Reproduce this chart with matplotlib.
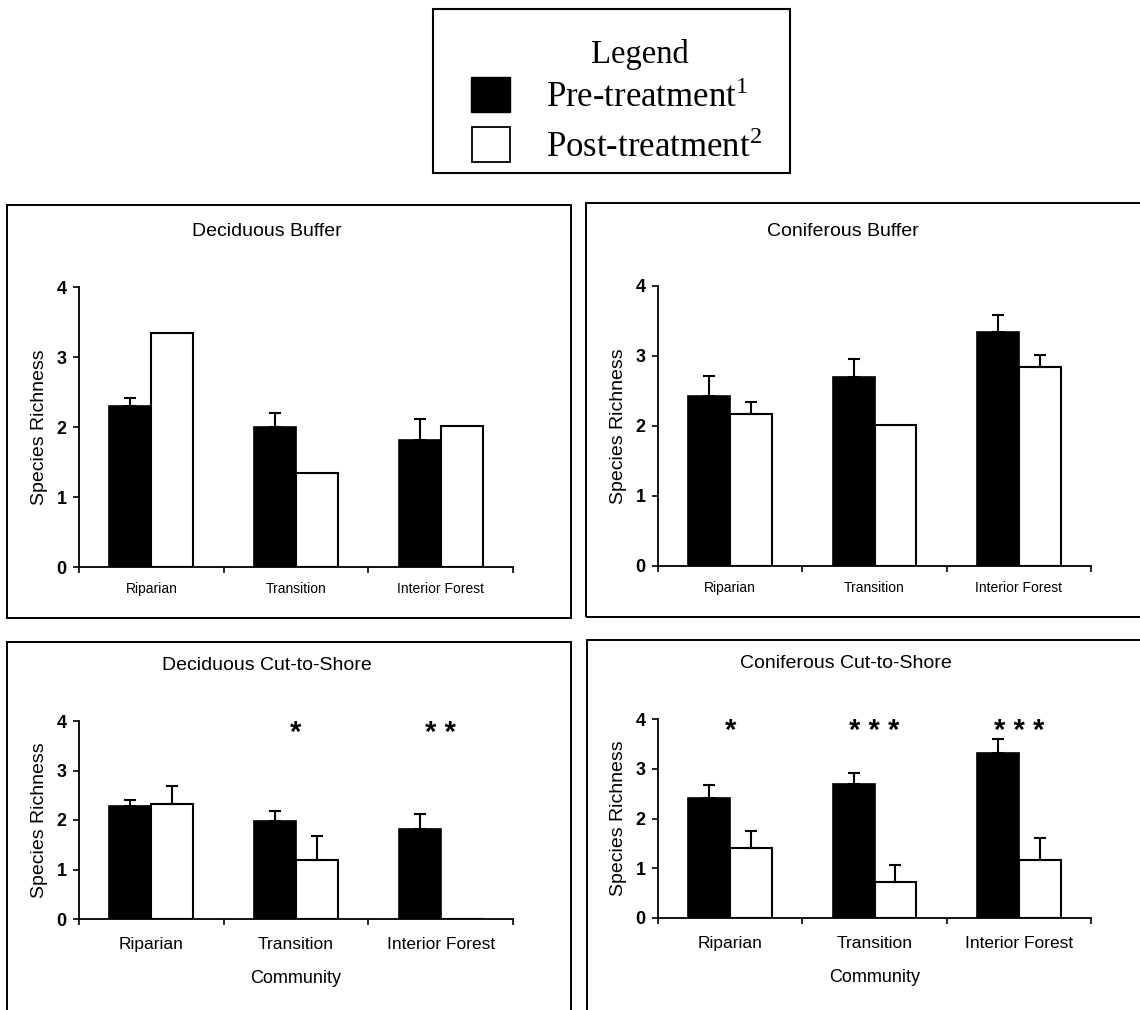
import numpy as np
import matplotlib
matplotlib.use("Agg")
import matplotlib.pyplot as plt
from matplotlib.patches import Rectangle

plt.rcParams["font.family"] = ["Liberation Sans", "DejaVu Sans"]
plt.rcParams["mathtext.fontset"] = "stix"

# data
categories = ["Riparian", "Transition", "Interior Forest"]
titles = ["Deciduous Buffer", "Coniferous Buffer",
          "Deciduous Cut-to-Shore", "Coniferous Cut-to-Shore"]

dec_buf_pre = [2.30, 2.00, 1.82]
dec_buf_pre_err = [0.12, 0.20, 0.30]
dec_buf_post = [3.34, 1.35, 2.02]
dec_buf_post_err = [0, 0, 0]

con_buf_pre = [2.43, 2.70, 3.34]
con_buf_pre_err = [0.29, 0.25, 0.25]
con_buf_post = [2.17, 2.01, 2.84]
con_buf_post_err = [0.17, 0, 0.17]

dec_cut_pre = [2.29, 1.97, 1.81]
dec_cut_pre_err = [0.11, 0.21, 0.31]
dec_cut_post = [2.32, 1.19, 0]
dec_cut_post_err = [0.36, 0.48, 0]

con_cut_pre = [2.42, 2.69, 3.32]
con_cut_pre_err = [0.26, 0.22, 0.28]
con_cut_post = [1.41, 0.72, 1.17]
con_cut_post_err = [0.33, 0.35, 0.44]

dec_cut_stars = ["", "*", "**"]
con_cut_stars = ["*", "***", "***"]

W, H = 1140, 1010
fig = plt.figure(figsize=(W / 100, H / 100), dpi=100)


def fx(px):
    return px / W


def fy(py):
    return 1 - py / H


def box(x0, y0, x1, y1, lw=1.4):
    fig.patches.append(Rectangle((fx(x0), fy(y1)), fx(x1) - fx(x0), fy(y0) - fy(y1),
                                 transform=fig.transFigure, fill=False,
                                 edgecolor="black", linewidth=lw))


# panel frames
box(7, 205, 571, 618)
box(586, 203, 1150, 617)
box(7, 642, 571, 1020)
box(587, 640, 1150, 1020)

# legend block
box(433, 9, 790, 173, lw=1.5)
fig.text(fx(640), fy(55), "Legend", family=["Liberation Serif"], fontsize=23.5,
         ha="center", va="center")
fig.patches.append(Rectangle((fx(471), fy(112)), fx(39), 35 / H,
                             transform=fig.transFigure, facecolor="black",
                             edgecolor="black"))
fig.patches.append(Rectangle((fx(472), fy(162)), fx(38), 35 / H,
                             transform=fig.transFigure, facecolor="white",
                             edgecolor="black", linewidth=1.3))
fig.text(fx(546), fy(98), r"Pre-treatment$^{\mathregular{1}}$", family=["Liberation Serif"],
         fontsize=25, ha="left", va="center")
fig.text(fx(546), fy(148), r"Post-treatment$^{\mathregular{2}}$", family=["Liberation Serif"],
         fontsize=25, ha="left", va="center")

panels = [
    (79, 513, 567, 287, dec_buf_pre, dec_buf_pre_err, dec_buf_post, dec_buf_post_err, None, (267, 231)),
    (658, 1091, 566, 286, con_buf_pre, con_buf_pre_err, con_buf_post, con_buf_post_err, None, (843, 231)),
    (79, 513, 919, 721, dec_cut_pre, dec_cut_pre_err, dec_cut_post, dec_cut_post_err, dec_cut_stars, (267, 665)),
    (658, 1091, 918, 719, con_cut_pre, con_cut_pre_err, con_cut_post, con_cut_post_err, con_cut_stars, (846, 664)),
]

x = np.arange(len(categories)) + 0.5
bw = 0.29

for i, (l, r, b, t, pre, pre_e, post, post_e, stars, tpos) in enumerate(panels):
    ax = fig.add_axes([fx(l), fy(b), fx(r) - fx(l), fy(t) - fy(b)])
    ax.bar(x - bw / 2, pre, bw, color="black", edgecolor="black", linewidth=1.2)
    ax.bar(x + bw / 2, post, bw, color="white", edgecolor="black", linewidth=1.5)
    for xs, vals, errs in [(x - bw / 2, pre, pre_e), (x + bw / 2, post, post_e)]:
        keep = [k for k in range(len(vals)) if errs[k] > 0]
        if keep:
            ax.errorbar([xs[k] for k in keep], [vals[k] for k in keep],
                        yerr=[[0] * len(keep), [errs[k] for k in keep]],
                        fmt="none", ecolor="black", elinewidth=1.5,
                        capsize=4.5, capthick=1.5)
    ax.set_xlim(0, 3)
    ax.set_ylim(0, 4)
    ax.set_yticks([0, 1, 2, 3, 4])
    ax.set_yticklabels(["0", "1", "2", "3", "4"], fontsize=13, fontweight="bold")
    ax.set_xticks([0, 1, 2, 3])
    ax.set_xticklabels([])
    ax.set_xticks(x, minor=True)
    for s in ["top", "right"]:
        ax.spines[s].set_visible(False)
    for s in ["left", "bottom"]:
        ax.spines[s].set_linewidth(1.3)
    ax.tick_params(axis="both", which="major", direction="out", length=4, width=1.2)
    ax.tick_params(axis="y", pad=5)
    if i < 2:
        ax.set_xticklabels(categories, minor=True, fontsize=10,
                           family=["Liberation Sans Narrow", "Liberation Sans"])
        ax.tick_params(axis="x", which="minor", length=0, pad=11)
    else:
        ax.set_xticklabels(categories, minor=True, fontsize=12.5)
        ax.tick_params(axis="x", which="minor", length=0, pad=13)
        ax.set_xlabel("Community", fontsize=13, labelpad=13)
    ax.set_ylabel("Species Richness", fontsize=14, labelpad=6)
    ax.patch.set_alpha(0)
    if stars:
        for xc, s in zip(x, stars):
            if s:
                ax.text(xc, 3.75, " ".join(s), fontsize=21, fontweight="bold",
                        ha="center", va="center")
    fig.text(fx(tpos[0]), fy(tpos[1]), titles[i], fontsize=14, ha="center", va="center")

fig.savefig("out.png", dpi=100)
